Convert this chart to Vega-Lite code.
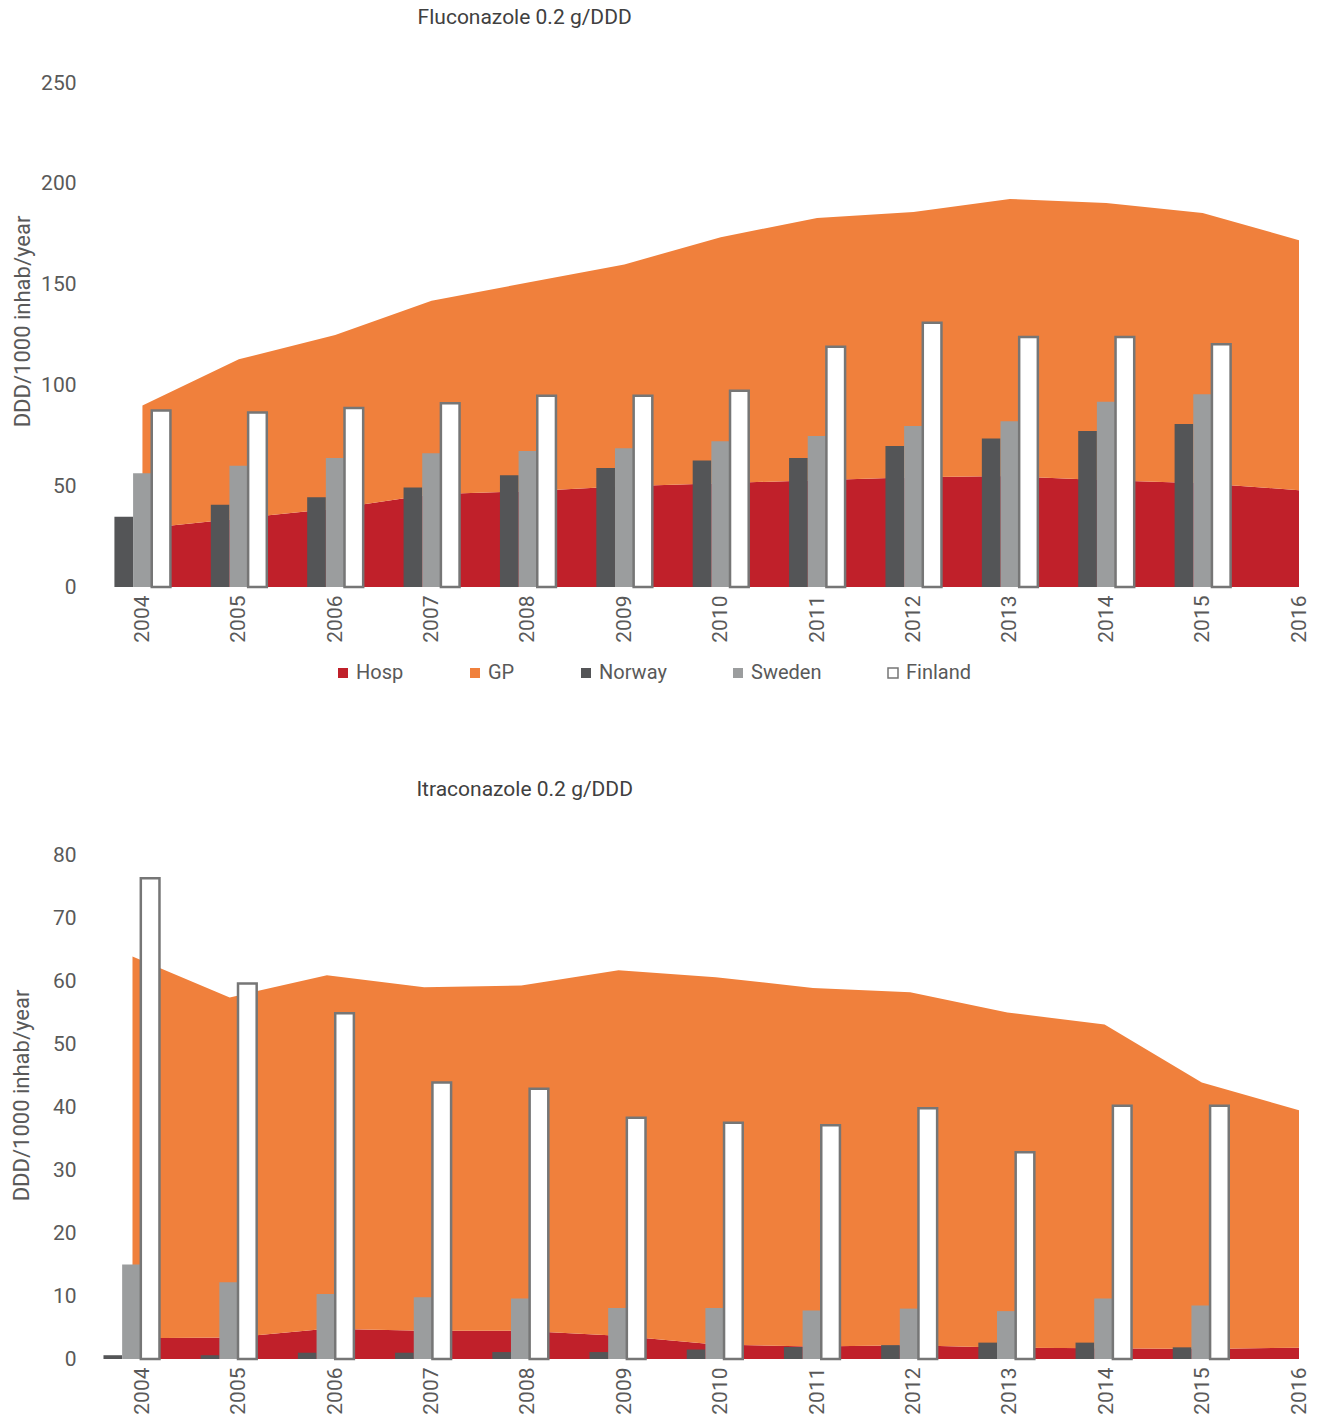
{
  "$schema": "https://vega.github.io/schema/vega-lite/v6.json",
  "background": "white",
  "padding": {"left": 10, "top": 7, "right": 5, "bottom": 0},
  "config": {
    "font": "Roboto",
    "view": {"stroke": null},
    "axis": {"labelColor": "#595959", "titleColor": "#595959", "domain": false, "ticks": false, "grid": false, "titleFontWeight": "normal"},
    "title": {"color": "#404040", "fontSize": 21, "fontWeight": "normal", "anchor": "start"},
    "legend": {"labelColor": "#595959", "labelFontSize": 20}
  },
  "datasets": {
    "flu_area": [
      {"year": 2004, "series": "Hosp", "value": 29}, {"year": 2005, "series": "Hosp", "value": 34}, {"year": 2006, "series": "Hosp", "value": 39},
      {"year": 2007, "series": "Hosp", "value": 46}, {"year": 2008, "series": "Hosp", "value": 47.5}, {"year": 2009, "series": "Hosp", "value": 50},
      {"year": 2010, "series": "Hosp", "value": 51.5}, {"year": 2011, "series": "Hosp", "value": 53}, {"year": 2012, "series": "Hosp", "value": 54.5},
      {"year": 2013, "series": "Hosp", "value": 55}, {"year": 2014, "series": "Hosp", "value": 53}, {"year": 2015, "series": "Hosp", "value": 51.5},
      {"year": 2016, "series": "Hosp", "value": 48},
      {"year": 2004, "series": "GP", "value": 61}, {"year": 2005, "series": "GP", "value": 79}, {"year": 2006, "series": "GP", "value": 86},
      {"year": 2007, "series": "GP", "value": 96}, {"year": 2008, "series": "GP", "value": 103.5}, {"year": 2009, "series": "GP", "value": 110},
      {"year": 2010, "series": "GP", "value": 122}, {"year": 2011, "series": "GP", "value": 130}, {"year": 2012, "series": "GP", "value": 131.5},
      {"year": 2013, "series": "GP", "value": 137.5}, {"year": 2014, "series": "GP", "value": 137.5}, {"year": 2015, "series": "GP", "value": 134},
      {"year": 2016, "series": "GP", "value": 124}
    ],
    "flu_bars": [
      {"year": 2004, "series": "Norway", "value": 34.9}, {"year": 2005, "series": "Norway", "value": 40.8}, {"year": 2006, "series": "Norway", "value": 44.5},
      {"year": 2007, "series": "Norway", "value": 49.4}, {"year": 2008, "series": "Norway", "value": 55.4}, {"year": 2009, "series": "Norway", "value": 59},
      {"year": 2010, "series": "Norway", "value": 62.7}, {"year": 2011, "series": "Norway", "value": 64}, {"year": 2012, "series": "Norway", "value": 70},
      {"year": 2013, "series": "Norway", "value": 73.6}, {"year": 2014, "series": "Norway", "value": 77.4}, {"year": 2015, "series": "Norway", "value": 80.9},
      {"year": 2004, "series": "Sweden", "value": 56.4}, {"year": 2005, "series": "Sweden", "value": 60.2}, {"year": 2006, "series": "Sweden", "value": 64},
      {"year": 2007, "series": "Sweden", "value": 66.3}, {"year": 2008, "series": "Sweden", "value": 67.5}, {"year": 2009, "series": "Sweden", "value": 68.8},
      {"year": 2010, "series": "Sweden", "value": 72.3}, {"year": 2011, "series": "Sweden", "value": 74.9}, {"year": 2012, "series": "Sweden", "value": 79.9},
      {"year": 2013, "series": "Sweden", "value": 82.2}, {"year": 2014, "series": "Sweden", "value": 91.9}, {"year": 2015, "series": "Sweden", "value": 95.6},
      {"year": 2004, "series": "Finland", "value": 87.5}, {"year": 2005, "series": "Finland", "value": 86.5}, {"year": 2006, "series": "Finland", "value": 88.8},
      {"year": 2007, "series": "Finland", "value": 91.1}, {"year": 2008, "series": "Finland", "value": 94.9}, {"year": 2009, "series": "Finland", "value": 94.9},
      {"year": 2010, "series": "Finland", "value": 97.4}, {"year": 2011, "series": "Finland", "value": 119.2}, {"year": 2012, "series": "Finland", "value": 131.1},
      {"year": 2013, "series": "Finland", "value": 124}, {"year": 2014, "series": "Finland", "value": 124}, {"year": 2015, "series": "Finland", "value": 120.4}
    ],
    "itra_area": [
      {"year": 2004, "series": "Hosp", "value": 3.3}, {"year": 2005, "series": "Hosp", "value": 3.4}, {"year": 2006, "series": "Hosp", "value": 4.8},
      {"year": 2007, "series": "Hosp", "value": 4.5}, {"year": 2008, "series": "Hosp", "value": 4.5}, {"year": 2009, "series": "Hosp", "value": 3.7},
      {"year": 2010, "series": "Hosp", "value": 2.3}, {"year": 2011, "series": "Hosp", "value": 2.0}, {"year": 2012, "series": "Hosp", "value": 2.2},
      {"year": 2013, "series": "Hosp", "value": 1.8}, {"year": 2014, "series": "Hosp", "value": 1.7}, {"year": 2015, "series": "Hosp", "value": 1.6},
      {"year": 2016, "series": "Hosp", "value": 1.8},
      {"year": 2004, "series": "GP", "value": 60.6}, {"year": 2005, "series": "GP", "value": 54.0}, {"year": 2006, "series": "GP", "value": 56.1},
      {"year": 2007, "series": "GP", "value": 54.5}, {"year": 2008, "series": "GP", "value": 54.8}, {"year": 2009, "series": "GP", "value": 58.0},
      {"year": 2010, "series": "GP", "value": 58.3}, {"year": 2011, "series": "GP", "value": 56.9}, {"year": 2012, "series": "GP", "value": 56.0},
      {"year": 2013, "series": "GP", "value": 53.2}, {"year": 2014, "series": "GP", "value": 51.4}, {"year": 2015, "series": "GP", "value": 42.3},
      {"year": 2016, "series": "GP", "value": 37.7}
    ],
    "itra_bars": [
      {"year": 2004, "series": "Norway", "value": 0.6}, {"year": 2005, "series": "Norway", "value": 0.6}, {"year": 2006, "series": "Norway", "value": 1.0},
      {"year": 2007, "series": "Norway", "value": 1.0}, {"year": 2008, "series": "Norway", "value": 1.1}, {"year": 2009, "series": "Norway", "value": 1.1},
      {"year": 2010, "series": "Norway", "value": 1.5}, {"year": 2011, "series": "Norway", "value": 1.9}, {"year": 2012, "series": "Norway", "value": 2.2},
      {"year": 2013, "series": "Norway", "value": 2.6}, {"year": 2014, "series": "Norway", "value": 2.6}, {"year": 2015, "series": "Norway", "value": 1.85},
      {"year": 2004, "series": "Sweden", "value": 15.0}, {"year": 2005, "series": "Sweden", "value": 12.2}, {"year": 2006, "series": "Sweden", "value": 10.3},
      {"year": 2007, "series": "Sweden", "value": 9.8}, {"year": 2008, "series": "Sweden", "value": 9.6}, {"year": 2009, "series": "Sweden", "value": 8.1},
      {"year": 2010, "series": "Sweden", "value": 8.1}, {"year": 2011, "series": "Sweden", "value": 7.7}, {"year": 2012, "series": "Sweden", "value": 8.0},
      {"year": 2013, "series": "Sweden", "value": 7.6}, {"year": 2014, "series": "Sweden", "value": 9.6}, {"year": 2015, "series": "Sweden", "value": 8.5},
      {"year": 2004, "series": "Finland", "value": 76.3}, {"year": 2005, "series": "Finland", "value": 59.6}, {"year": 2006, "series": "Finland", "value": 54.9},
      {"year": 2007, "series": "Finland", "value": 43.9}, {"year": 2008, "series": "Finland", "value": 42.9}, {"year": 2009, "series": "Finland", "value": 38.3},
      {"year": 2010, "series": "Finland", "value": 37.5}, {"year": 2011, "series": "Finland", "value": 37.1}, {"year": 2012, "series": "Finland", "value": 39.8},
      {"year": 2013, "series": "Finland", "value": 32.8}, {"year": 2014, "series": "Finland", "value": 40.2}, {"year": 2015, "series": "Finland", "value": 40.2}
    ]
  },
  "resolve": {"scale": {"color": "independent"}, "legend": {"color": "independent"}},
  "spacing": 96,
  "vconcat": [
    {
      "title": {"text": "Fluconazole 0.2 g/DDD", "dx": 406, "offset": 44},
      "width": 1198,
      "height": 504,
      "resolve": {"scale": {"x": "independent"}},
      "layer": [
        {
          "data": {"name": "flu_area"},
          "mark": {"type": "area"},
          "encoding": {
            "x": {"field": "year", "type": "quantitative", "scale": {"domain": [2003.57, 2016], "nice": false, "zero": false},
                  "axis": {"title": null, "values": [2004, 2005, 2006, 2007, 2008, 2009, 2010, 2011, 2012, 2013, 2014, 2015, 2016], "format": "d", "labelAngle": -90, "labelFontSize": 21, "labelPadding": 8, "labelFlush": false, "labelOverlap": false}},
            "y": {"field": "value", "type": "quantitative", "stack": "zero", "scale": {"domain": [0, 250], "nice": false},
                  "axis": {"title": "DDD/1000 inhab/year", "values": [0, 50, 100, 150, 200, 250], "labelFontSize": 21, "labelPadding": 25, "titleFontSize": 22, "titlePadding": 6, "titleY": 238}},
            "color": {"field": "series", "type": "nominal",
                      "scale": {"domain": ["Hosp", "GP", "Norway", "Sweden", "Finland"], "range": ["#C0202A", "#F0803C", "#545557", "#9B9D9E", "#FFFFFF"]},
                      "legend": {"title": null, "orient": "none", "direction": "horizontal", "legendX": 232, "legendY": 580, "symbolType": "square", "symbolSize": 100, "columnPadding": 61, "labelOffset": 3,
                                 "encode": {"symbols": {"update": {"stroke": {"signal": "datum.value === 'Finland' ? '#767676' : 'transparent'"}, "strokeWidth": {"value": 1.5}}}}}},
            "order": {"field": "series", "sort": "descending"}
          }
        },
        {
          "data": {"name": "flu_bars"},
          "mark": {"type": "bar"},
          "encoding": {
            "x": {"field": "year", "type": "ordinal", "axis": null,
                  "scale": {"domain": [2004, 2005, 2006, 2007, 2008, 2009, 2010, 2011, 2012, 2013, 2014, 2015], "paddingInner": 0.419, "paddingOuter": 0.4245, "align": 0.164, "round": false}},
            "xOffset": {"field": "series", "type": "nominal", "scale": {"domain": ["Norway", "Sweden", "Finland"], "paddingInner": 0, "paddingOuter": 0}},
            "y": {"field": "value", "type": "quantitative", "stack": null},
            "color": {"field": "series", "type": "nominal"},
            "stroke": {"condition": {"test": "datum.series === 'Finland'", "value": "#767676"}, "value": null},
            "strokeWidth": {"value": 2.5}
          }
        }
      ]
    },
    {
      "title": {"text": "Itraconazole 0.2 g/DDD", "dx": 406, "offset": 44},
      "width": 1198,
      "height": 504,
      "resolve": {"scale": {"x": "independent"}},
      "layer": [
        {
          "data": {"name": "itra_area"},
          "mark": {"type": "area"},
          "encoding": {
            "x": {"field": "year", "type": "quantitative", "scale": {"domain": [2003.676, 2016], "nice": false, "zero": false}, "axis": null},
            "y": {"field": "value", "type": "quantitative", "stack": "zero", "scale": {"domain": [0, 80], "nice": false},
                  "axis": {"title": "DDD/1000 inhab/year", "values": [0, 10, 20, 30, 40, 50, 60, 70, 80], "labelFontSize": 21, "labelPadding": 25, "titleFontSize": 22, "titlePadding": 19, "titleY": 240}},
            "color": {"field": "series", "type": "nominal",
                      "scale": {"domain": ["Hosp", "GP", "Norway", "Sweden", "Finland"], "range": ["#C0202A", "#F0803C", "#545557", "#9B9D9E", "#FFFFFF"]},
                      "legend": null},
            "order": {"field": "series", "sort": "descending"}
          }
        },
        {
          "data": {"name": "itra_bars"},
          "mark": {"type": "bar"},
          "encoding": {
            "x": {"field": "year", "type": "ordinal", "axis": null,
                  "scale": {"domain": [2004, 2005, 2006, 2007, 2008, 2009, 2010, 2011, 2012, 2013, 2014, 2015], "paddingInner": 0.4034, "paddingOuter": 0.3638, "align": 0.035, "round": false}},
            "xOffset": {"field": "series", "type": "nominal", "scale": {"domain": ["Norway", "Sweden", "Finland"], "paddingInner": 0, "paddingOuter": 0}},
            "y": {"field": "value", "type": "quantitative", "stack": null},
            "color": {"field": "series", "type": "nominal", "legend": null},
            "stroke": {"condition": {"test": "datum.series === 'Finland'", "value": "#767676"}, "value": null},
            "strokeWidth": {"value": 2.5}
          }
        },
        {
          "data": {"name": "itra_bars"},
          "mark": {"type": "point", "opacity": 0},
          "encoding": {
            "x": {"field": "year", "type": "quantitative", "scale": {"domain": [2003.57, 2016], "nice": false, "zero": false},
                  "axis": {"title": null, "values": [2004, 2005, 2006, 2007, 2008, 2009, 2010, 2011, 2012, 2013, 2014, 2015, 2016], "format": "d", "labelAngle": -90, "labelFontSize": 21, "labelPadding": 8, "labelFlush": false, "labelOverlap": false}},
            "y": {"field": "value", "type": "quantitative"}
          }
        }
      ]
    }
  ]
}
